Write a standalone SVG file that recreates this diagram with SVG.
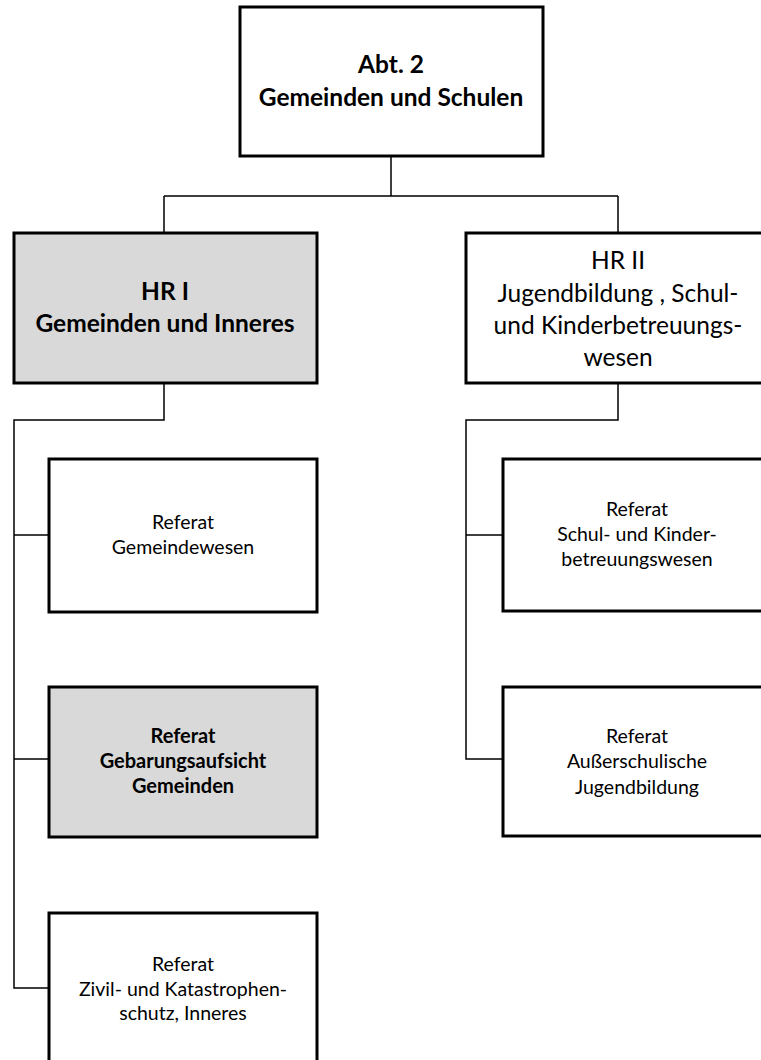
<svg xmlns="http://www.w3.org/2000/svg" width="761" height="1060" viewBox="0 0 761 1060">
<style>
.box{fill:#ffffff;stroke:#000;stroke-width:3}
.grey{fill:#d9d9d9}
.t{font-family:Lato,"Open Sans","Liberation Sans",sans-serif;text-anchor:middle;fill:#000}
.b{font-weight:bold}
.big{font-size:24.5px}
.mid{font-size:24.5px}
.sm{font-size:19.5px}
.smb{font-size:20px}
.conn{fill:none;stroke:#000;stroke-width:1.5}
</style>
<rect width="761" height="1060" fill="#fff"/>
<g id="connectors">
<path class="conn" d="M391,157 V196 M164,196 H618 M164,196 V233 M618,196 V233"/>
<path class="conn" d="M164,383 V420 H14 V988 H49 M14,535 H49 M14,759 H49"/>
<path class="conn" d="M618,383 V420 H466 V759 H503 M466,535 H503"/>
</g>
<g id="abt2">
<rect class="box" x="240" y="7" width="303" height="149"/>
<text class="t b big" x="391" y="73">Abt. 2</text>
<text class="t b big" x="391" y="106">Gemeinden und Schulen</text>
</g>
<g id="hr1">
<rect class="box grey" x="14" y="233" width="303" height="150"/>
<text class="t b big" x="165" y="300">HR I</text>
<text class="t b big" x="165" y="332">Gemeinden und Inneres</text>
</g>
<g id="hr2">
<rect class="box" x="466" y="233" width="304" height="150"/>
<text class="t mid" x="618" y="269">HR II</text>
<text class="t mid" x="618" y="302">Jugendbildung , Schul-</text>
<text class="t mid" x="618" y="334">und Kinderbetreuungs-</text>
<text class="t mid" x="618" y="366">wesen</text>
</g>
<g id="ref-gemeindewesen">
<rect class="box" x="49" y="459" width="268" height="153"/>
<text class="t sm" x="183" y="529">Referat</text>
<text class="t sm" x="183" y="554">Gemeindewesen</text>
</g>
<g id="ref-gebarung">
<rect class="box grey" x="49" y="687" width="268" height="150"/>
<text class="t b smb" x="183" y="743">Referat</text>
<text class="t b smb" x="183" y="768">Gebarungsaufsicht</text>
<text class="t b smb" x="183" y="793">Gemeinden</text>
</g>
<g id="ref-zivil">
<rect class="box" x="49" y="913" width="268" height="150"/>
<text class="t sm" x="183" y="971">Referat</text>
<text class="t sm" x="183" y="996">Zivil- und Katastrophen-</text>
<text class="t sm" x="183" y="1020">schutz, Inneres</text>
</g>
<g id="ref-schul">
<rect class="box" x="503" y="459" width="268" height="152"/>
<text class="t sm" x="637" y="516">Referat</text>
<text class="t sm" x="637" y="541">Schul- und Kinder-</text>
<text class="t sm" x="637" y="566">betreuungswesen</text>
</g>
<g id="ref-ausser">
<rect class="box" x="503" y="687" width="268" height="149"/>
<text class="t sm" x="637" y="743">Referat</text>
<text class="t sm" x="637" y="768">Außerschulische</text>
<text class="t sm" x="637" y="794">Jugendbildung</text>
</g>
</svg>
